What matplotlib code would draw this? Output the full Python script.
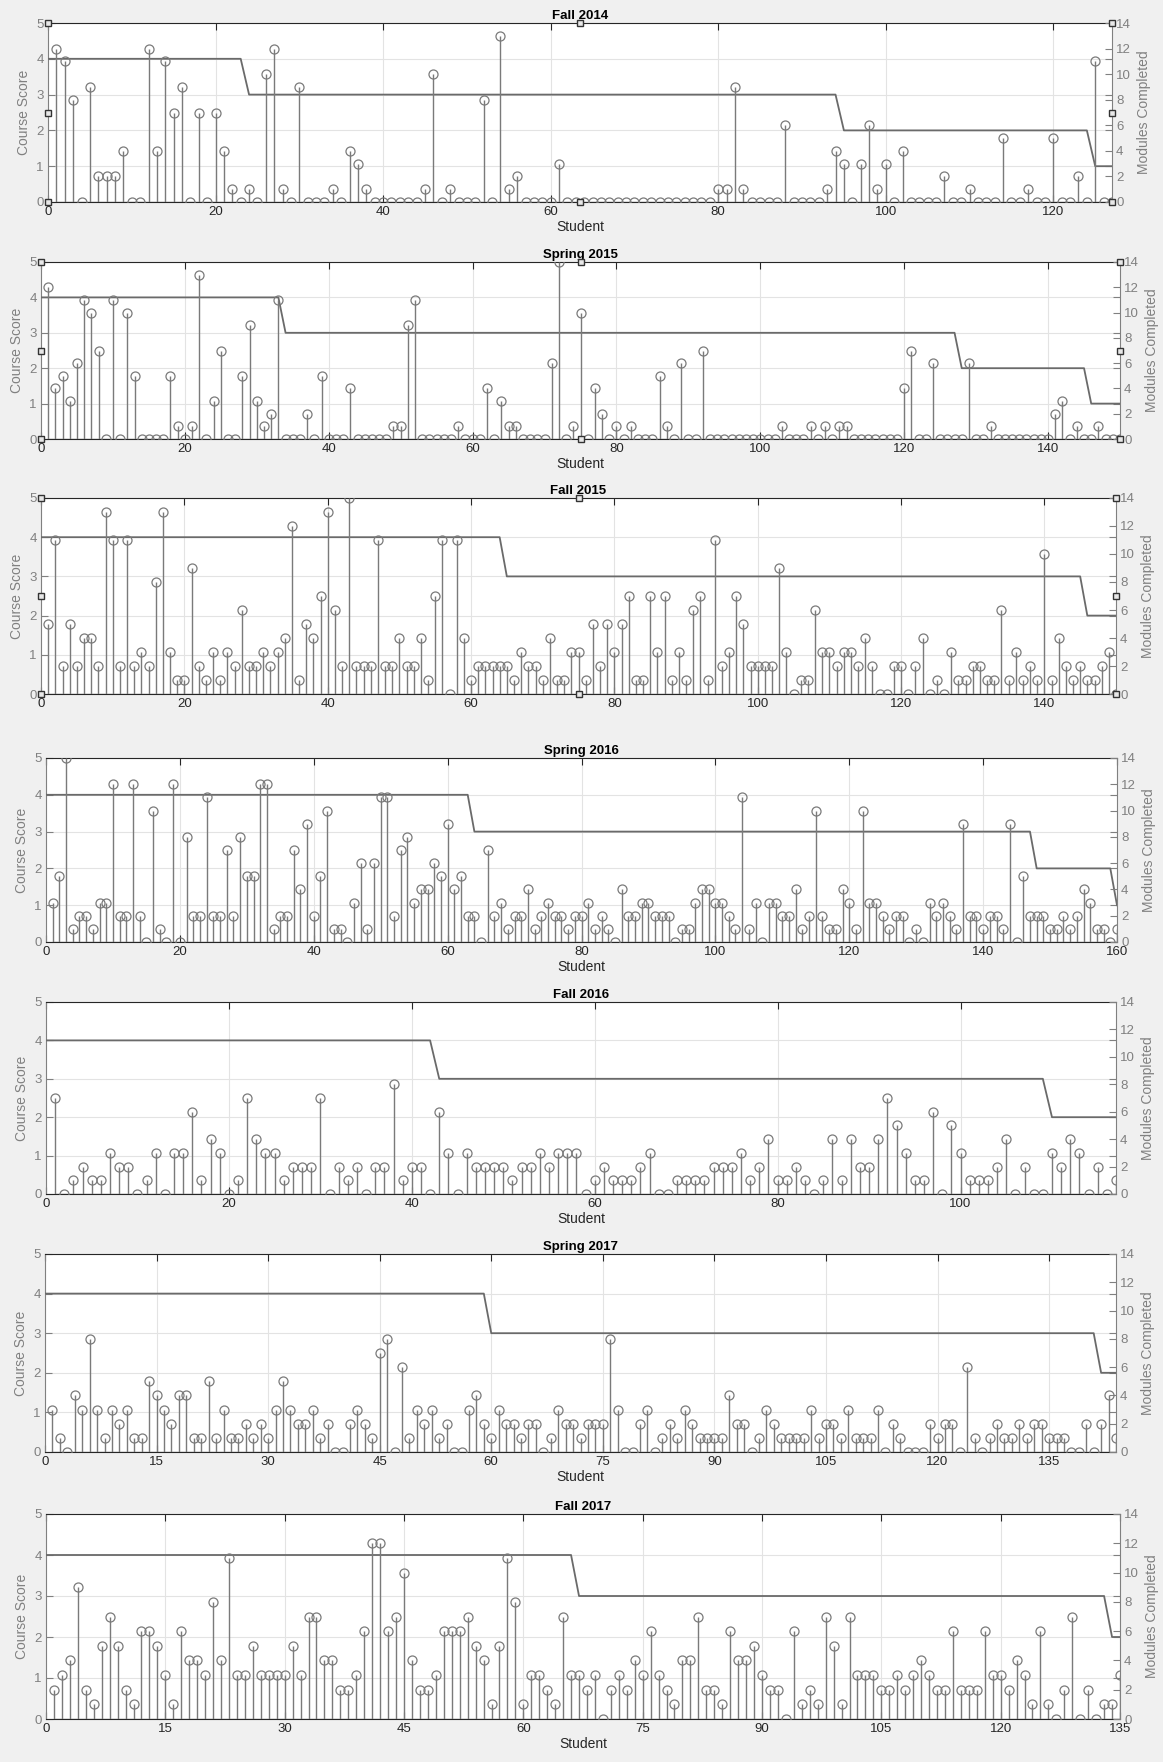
import numpy as np
import matplotlib.pyplot as plt

plt.rcParams['font.family'] = ['Liberation Sans', 'DejaVu Sans']

# ---- data: modules completed per student (stems), course score runs (step line)
semesters = ['Fall 2014', 'Spring 2015', 'Fall 2015', 'Spring 2016',
             'Fall 2016', 'Spring 2017', 'Fall 2017']

fall2014_modules = [12, 11, 8, 0, 9, 2, 2, 2, 4, 0,
                    0, 12, 4, 11, 7, 9, 0, 7, 0, 7,
                    4, 1, 0, 1, 0, 10, 12, 1, 0, 9,
                    0, 0, 0, 1, 0, 4, 3, 1, 0, 0,
                    0, 0, 0, 0, 1, 10, 0, 1, 0, 0,
                    0, 8, 0, 13, 1, 2, 0, 0, 0, 0,
                    3, 0, 0, 0, 0, 0, 0, 0, 0, 0,
                    0, 0, 0, 0, 0, 0, 0, 0, 0, 1,
                    1, 9, 1, 0, 0, 0, 0, 6, 0, 0,
                    0, 0, 1, 4, 3, 0, 3, 6, 1, 3,
                    0, 4, 0, 0, 0, 0, 2, 0, 0, 1,
                    0, 0, 0, 5, 0, 0, 1, 0, 0, 5,
                    0, 0, 2, 0, 11, 0, 0]
spring2015_modules = [12, 4, 5, 3, 6, 11, 10, 7, 0, 11,
                      0, 10, 5, 0, 0, 0, 0, 5, 1, 0,
                      1, 13, 0, 3, 7, 0, 0, 5, 9, 3,
                      1, 2, 11, 0, 0, 0, 2, 0, 5, 0,
                      0, 0, 4, 0, 0, 0, 0, 0, 1, 1,
                      9, 11, 0, 0, 0, 0, 0, 1, 0, 0,
                      0, 4, 0, 3, 1, 1, 0, 0, 0, 0,
                      6, 14, 0, 1, 10, 0, 4, 2, 0, 1,
                      0, 1, 0, 0, 0, 5, 1, 0, 6, 0,
                      0, 7, 0, 0, 0, 0, 0, 0, 0, 0,
                      0, 0, 1, 0, 0, 0, 1, 0, 1, 0,
                      1, 1, 0, 0, 0, 0, 0, 0, 0, 4,
                      7, 0, 0, 6, 0, 0, 0, 0, 6, 0,
                      0, 1, 0, 0, 0, 0, 0, 0, 0, 0,
                      2, 3, 0, 1, 0, 0, 1, 0, 0, 0]
fall2015_modules = [5, 11, 2, 5, 2, 4, 4, 2, 13, 11,
                    2, 11, 2, 3, 2, 8, 13, 3, 1, 1,
                    9, 2, 1, 3, 1, 3, 2, 6, 2, 2,
                    3, 2, 3, 4, 12, 1, 5, 4, 7, 13,
                    6, 2, 14, 2, 2, 2, 11, 2, 2, 4,
                    2, 2, 4, 1, 7, 11, 0, 11, 4, 1,
                    2, 2, 2, 2, 2, 1, 3, 2, 2, 1,
                    4, 1, 1, 3, 3, 1, 5, 2, 5, 3,
                    5, 7, 1, 1, 7, 3, 7, 1, 3, 1,
                    6, 7, 1, 11, 2, 3, 7, 5, 2, 2,
                    2, 2, 9, 3, 0, 1, 1, 6, 3, 3,
                    2, 3, 3, 2, 4, 2, 0, 0, 2, 2,
                    0, 2, 4, 0, 1, 0, 3, 1, 1, 2,
                    2, 1, 1, 6, 1, 3, 1, 2, 1, 10,
                    1, 4, 2, 1, 2, 1, 1, 2, 3, 0]
spring2016_modules = [3, 5, 14, 1, 2, 2, 1, 3, 3, 12,
                      2, 2, 12, 2, 0, 10, 1, 0, 12, 0,
                      8, 2, 2, 11, 2, 2, 7, 2, 8, 5,
                      5, 12, 12, 1, 2, 2, 7, 4, 9, 2,
                      5, 10, 1, 1, 0, 3, 6, 1, 6, 11,
                      11, 2, 7, 8, 3, 4, 4, 6, 5, 9,
                      4, 5, 2, 2, 0, 7, 2, 3, 1, 2,
                      2, 4, 1, 2, 3, 2, 2, 1, 2, 2,
                      3, 1, 2, 1, 0, 4, 2, 2, 3, 3,
                      2, 2, 2, 0, 1, 1, 3, 4, 4, 3,
                      3, 2, 1, 11, 1, 3, 0, 3, 3, 2,
                      2, 4, 1, 2, 10, 2, 1, 1, 4, 3,
                      1, 10, 3, 3, 2, 1, 2, 2, 0, 1,
                      0, 3, 2, 3, 2, 1, 9, 2, 2, 1,
                      2, 2, 1, 9, 0, 5, 2, 2, 2, 1,
                      1, 2, 1, 2, 4, 3, 1, 1, 0, 1]
fall2016_modules = [7, 0, 1, 2, 1, 1, 3, 2, 2, 0,
                    1, 3, 0, 3, 3, 6, 1, 4, 3, 0,
                    1, 7, 4, 3, 3, 1, 2, 2, 2, 7,
                    0, 2, 1, 2, 0, 2, 2, 8, 1, 2,
                    2, 0, 6, 3, 0, 3, 2, 2, 2, 2,
                    1, 2, 2, 3, 2, 3, 3, 3, 0, 1,
                    2, 1, 1, 1, 2, 3, 0, 0, 1, 1,
                    1, 1, 2, 2, 2, 3, 1, 2, 4, 1,
                    1, 2, 1, 0, 1, 4, 1, 4, 2, 2,
                    4, 7, 5, 3, 1, 1, 6, 0, 5, 3,
                    1, 1, 1, 2, 4, 0, 2, 0, 0, 3,
                    2, 4, 3, 0, 2, 0, 1]
spring2017_modules = [3, 1, 0, 4, 3, 8, 3, 1, 3, 2,
                      3, 1, 1, 5, 4, 3, 2, 4, 4, 1,
                      1, 5, 1, 3, 1, 1, 2, 1, 2, 1,
                      3, 5, 3, 2, 2, 3, 1, 2, 0, 0,
                      2, 3, 2, 1, 7, 8, 0, 6, 1, 3,
                      2, 3, 1, 2, 0, 0, 3, 4, 2, 1,
                      3, 2, 2, 1, 2, 2, 0, 1, 3, 2,
                      2, 1, 2, 2, 2, 8, 3, 0, 0, 2,
                      3, 0, 1, 2, 1, 3, 2, 1, 1, 1,
                      1, 4, 2, 2, 0, 1, 3, 2, 1, 1,
                      1, 1, 3, 1, 2, 2, 1, 3, 1, 1,
                      1, 3, 0, 2, 1, 0, 0, 0, 2, 1,
                      2, 2, 0, 6, 1, 0, 1, 2, 1, 1,
                      2, 1, 2, 2, 1, 1, 1, 0, 0, 2,
                      0, 2, 4, 1]
fall2017_modules = [2, 3, 4, 9, 2, 1, 5, 7, 5, 2,
                    1, 6, 6, 5, 3, 1, 6, 4, 4, 3,
                    8, 4, 11, 3, 3, 5, 3, 3, 3, 3,
                    5, 3, 7, 7, 4, 4, 2, 2, 3, 6,
                    12, 12, 6, 7, 10, 4, 2, 2, 3, 6,
                    6, 6, 7, 5, 4, 1, 5, 11, 8, 1,
                    3, 3, 2, 1, 7, 3, 3, 2, 3, 0,
                    2, 3, 2, 4, 3, 6, 3, 2, 1, 4,
                    4, 7, 2, 2, 1, 6, 4, 4, 5, 3,
                    2, 2, 0, 6, 1, 2, 1, 7, 5, 1,
                    7, 3, 3, 3, 2, 2, 3, 2, 3, 4,
                    3, 2, 2, 6, 2, 2, 2, 6, 3, 3,
                    2, 4, 3, 1, 6, 1, 0, 2, 7, 0,
                    2, 0, 1, 1, 3]

# course score step line: score levels and how many points hold each level
score_levels = [[4, 3, 2, 1], [4, 3, 2, 1], [4, 3, 2], [4, 3, 2, 1],
                [4, 3, 2], [4, 3, 2], [4, 3, 2]]
score_runs = [[24, 71, 30, 3], [34, 94, 18, 5], [65, 81, 5], [64, 84, 12, 1],
              [43, 67, 8], [60, 82, 3], [67, 67, 2]]

xtick_steps = [20, 20, 20, 20, 20, 15, 15]

modules_all = [fall2014_modules, spring2015_modules, fall2015_modules,
               spring2016_modules, fall2016_modules, spring2017_modules,
               fall2017_modules]

# ---- layout (pixels: left, top, right, bottom)
W, H = 1163, 1762
boxes = [(48, 23, 1112, 202), (41, 262, 1120, 439), (41, 498, 1116, 694),
         (46, 758, 1117, 942), (46, 1002, 1116, 1194), (45, 1254, 1116, 1452),
         (46, 1514, 1120, 1719)]
show_xlabel = [True, True, False, True, True, True, True]
has_handles = [True, True, True, False, False, False, False]

GRAY = '#808080'
DARK = '#262626'
STEM = '#7a7a7a'

fig = plt.figure(figsize=(W / 100, H / 100), dpi=100, facecolor='#f0f0f0')

for i, name in enumerate(semesters):
    l, t, r, b = boxes[i]
    ax = fig.add_axes([l / W, 1 - b / H, (r - l) / W, (b - t) / H])
    ax2 = ax.twinx()
    mods = modules_all[i]
    n = len(mods)
    x = np.arange(1, n + 1)

    score = np.repeat(score_levels[i], score_runs[i])
    ax.plot(np.arange(len(score)), score, color='#6a6a6a', lw=1.3, zorder=3)
    ax.set_xlim(0, n)
    ax.set_ylim(0, 5)
    ax.set_yticks(range(6))
    ax.set_xticks(np.arange(0, n + 1, xtick_steps[i]))
    ax.grid(True, color='#e3e3e3', lw=0.8)
    ax.set_axisbelow(True)

    ml, sl, bl = ax2.stem(x, mods, linefmt='-', markerfmt='o', basefmt='-')
    plt.setp(sl, color=STEM, lw=1.0)
    plt.setp(ml, markerfacecolor='none', markeredgecolor=STEM,
             markersize=6.5, markeredgewidth=0.9)
    plt.setp(bl, color=STEM, lw=1.0)
    ax2.set_ylim(0, 14)
    ax2.set_yticks(range(0, 15, 2))
    ax2.set_xlim(0, n)

    ax.set_facecolor('white')
    for side in ['top', 'bottom']:
        ax.spines[side].set_color(DARK)
        ax2.spines[side].set_visible(False)
    ax.spines['left'].set_color(GRAY)
    ax.spines['right'].set_visible(False)
    ax2.spines['left'].set_visible(False)
    ax2.spines['right'].set_color(GRAY)

    ax.tick_params(axis='x', direction='in', top=True, bottom=True, length=5,
                   color=DARK, labelcolor=DARK, labelsize=9.5, pad=3)
    ax.tick_params(axis='y', direction='in', left=True, right=True, length=5,
                   color=GRAY, labelcolor=GRAY, labelsize=9.5, pad=3)
    ax2.tick_params(axis='y', direction='in', length=5, color=GRAY,
                    labelcolor=GRAY, labelsize=9.5, pad=3)

    ax.set_title(name, fontsize=9.5, fontweight='bold', color='black', pad=3)
    ax.set_ylabel('Course Score', fontsize=10, color=GRAY, labelpad=4)
    ax2.set_ylabel('Modules Completed', fontsize=10, color=GRAY, labelpad=4)
    if show_xlabel[i]:
        ax.set_xlabel('Student', fontsize=10, color=DARK, labelpad=1)

    if has_handles[i]:
        # selection handles left on the axes box in the original screenshot
        hx = [0, 0, 0, 0.5, 0.5, 1, 1, 1]
        hy = [0, 0.5, 1, 1, 0, 1, 0.5, 0]
        ax2.plot(hx, hy, ls='none', marker='s', ms=5, mfc='#e8e8e8',
                 mec='#333333', mew=1.0, transform=ax2.transAxes,
                 clip_on=False, zorder=10)

fig.savefig('out.png', dpi=100, facecolor=fig.get_facecolor())
